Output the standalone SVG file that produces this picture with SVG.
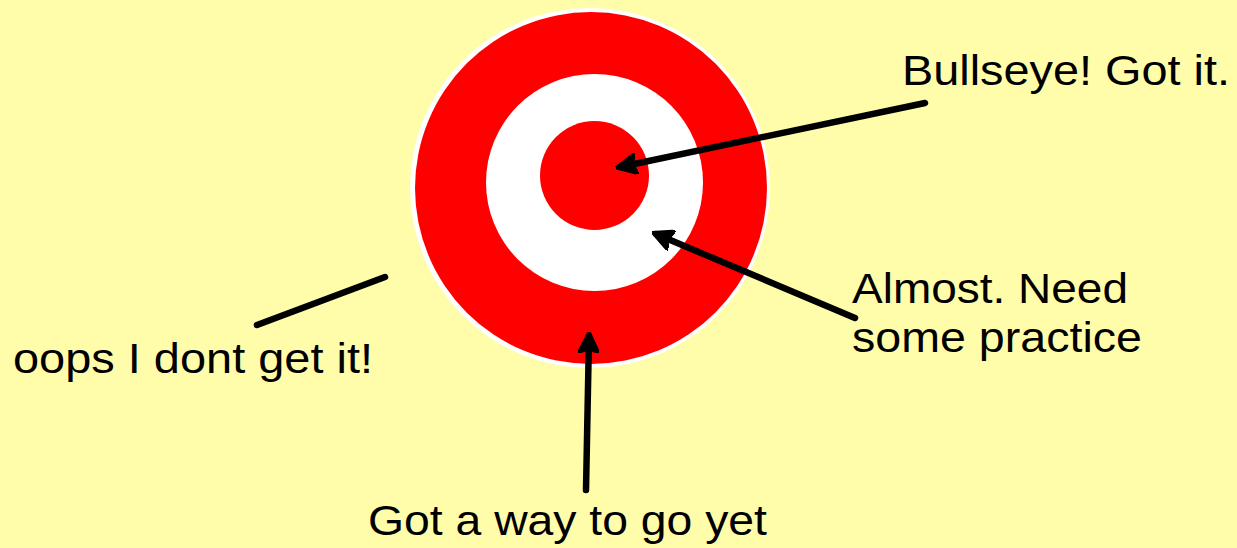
<svg xmlns="http://www.w3.org/2000/svg" width="1237" height="548" viewBox="0 0 1237 548">
  <style>
    .lbl { font-family: "Liberation Sans", Arial, sans-serif; font-size: 43px; fill: #000; }
    .conn { stroke: #000; stroke-width: 6.5; stroke-linecap: round; fill: none; }
  </style>
  <defs>
    <marker id="ah" viewBox="0 0 10 10" refX="8" refY="5" markerWidth="3.3" markerHeight="3.3" orient="auto" markerUnits="strokeWidth">
      <path d="M0,0 L10,5 L0,10 L2,5 Z" fill="#000" stroke="#000" stroke-width="1.2" stroke-linejoin="round"/>
    </marker>
  </defs>
  <rect width="1237" height="548" fill="#FFFDA9"/>
  <g id="target">
    <circle cx="590" cy="188" r="180" fill="#FFFFFF"/>
    <circle cx="591" cy="188" r="176" fill="#FF0000"/>
    <circle cx="594.5" cy="182.5" r="108.5" fill="#FFFFFF"/>
    <circle cx="594.5" cy="175.5" r="54.5" fill="#FF0000"/>
  </g>
  <g id="connectors">
    <line class="conn" x1="925" y1="103" x2="620" y2="167" marker-end="url(#ah)"/>
    <line class="conn" x1="855" y1="318" x2="656" y2="234" marker-end="url(#ah)"/>
    <line class="conn" x1="586" y1="490" x2="589" y2="336" marker-end="url(#ah)"/>
    <line class="conn" x1="257" y1="325" x2="385" y2="277"/>
  </g>
  <g id="label-bullseye">
    <text class="lbl" x="902" y="85" font-size="45" textLength="328" lengthAdjust="spacingAndGlyphs">Bullseye! Got it.</text>
  </g>
  <g id="label-almost">
    <text class="lbl" x="852" y="303" textLength="276" lengthAdjust="spacingAndGlyphs">Almost. Need</text>
    <text class="lbl" x="852" y="352" textLength="290" lengthAdjust="spacingAndGlyphs">some practice</text>
  </g>
  <g id="label-oops">
    <text class="lbl" x="13" y="373" textLength="360" lengthAdjust="spacingAndGlyphs">oops I dont get it!</text>
  </g>
  <g id="label-way">
    <text class="lbl" x="368" y="535" textLength="399" lengthAdjust="spacingAndGlyphs">Got a way to go yet</text>
  </g>
</svg>
